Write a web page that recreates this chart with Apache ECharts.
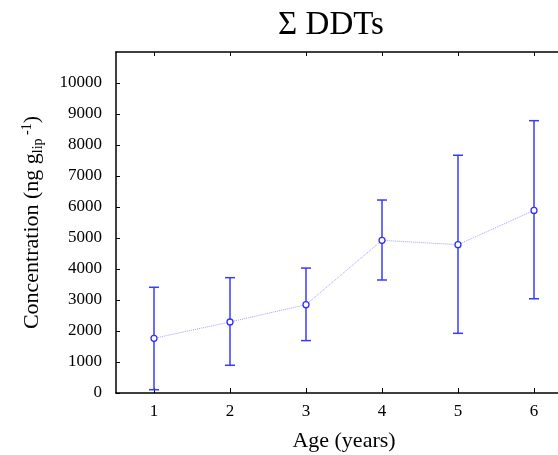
<!DOCTYPE html>
<html lang="en">
<head>
  <meta charset="UTF-8">
  <script src="https://cdn.jsdelivr.net/npm/echarts@6.0.0/dist/echarts.min.js"></script>
  <style>
    body, html { margin: 0; padding: 0; width: 100%; height: 100%; background: #fff; overflow: hidden; }
    #main { width: 558px; height: 455px; }
  </style>
</head>
<body>
  <div id="main"></div>
  <script type="text/javascript">
    var ages = [1, 2, 3, 4, 5, 6];
    var means = [1765, 2290, 2850, 4925, 4785, 5890];
    var upper = [3410, 3720, 4030, 6225, 7670, 8785];
    var lower = [106, 894, 1690, 3645, 1925, 3040];
    var yTicks = [0, 1000, 2000, 3000, 4000, 5000, 6000, 7000, 8000, 9000, 10000];

    var serif = '"Liberation Serif", "DejaVu Serif", serif';
    var myChart = echarts.init(document.getElementById('main'));

    var lineData = ages.map(function (a, i) { return [a, means[i]]; });
    var barData = ages.map(function (a, i) { return [a, lower[i], upper[i]]; });

    var option = {
      backgroundColor: '#fff',
      animation: false,
      title: {
        text: 'Σ DDTs',
        left: 326,
        textAlign: 'center',
        top: 4,
        textStyle: { fontFamily: serif, fontSize: 33, fontWeight: 'normal', color: '#000' }
      },
      grid: { left: 116, top: 52, width: 456, height: 341, outerBoundsMode: 'none' },
      xAxis: [{
        type: 'value',
        min: 0.5,
        max: 6.5,
        name: 'Age (years)',
        nameLocation: 'middle',
        nameGap: 37,
        nameTextStyle: { fontFamily: serif, fontSize: 22, color: '#000' },
        axisLine: { onZero: false, lineStyle: { color: '#000', width: 1.5 } },
        axisTick: { inside: true, length: 5, lineStyle: { color: '#000' }, customValues: ages },
        axisLabel: {
          fontFamily: serif, fontSize: 17, color: '#000', margin: 10, customValues: ages,
          formatter: function (v) { return String(v); }
        },
        splitLine: { show: false }
      }, {
        type: 'value',
        position: 'top',
        min: 0.5,
        max: 6.5,
        axisLine: { onZero: false, lineStyle: { color: '#000', width: 1.5 } },
        axisTick: { inside: true, length: 4, lineStyle: { color: '#000' }, customValues: ages },
        axisLabel: { show: false },
        splitLine: { show: false }
      }],
      yAxis: [{
        type: 'value',
        min: 0,
        max: 11000,
        interval: 1000,
        name: 'Concentration (ng g{sub|lip}{sup| -1})',
        nameLocation: 'middle',
        nameGap: 71,
        nameTextStyle: {
          fontFamily: serif, fontSize: 22, color: '#000',
          rich: {
            sub: { fontFamily: serif, fontSize: 14, color: '#000', padding: [11, 0, 0, 0] },
            sup: { fontFamily: serif, fontSize: 14, color: '#000', padding: [0, 0, 11, 0] }
          }
        },
        axisLine: { onZero: false, lineStyle: { color: '#000', width: 1.5 } },
        axisTick: { inside: true, length: 4, lineStyle: { color: '#000' }, customValues: yTicks },
        axisLabel: {
          fontFamily: serif, fontSize: 17, color: '#000', margin: 14, customValues: yTicks,
          formatter: function (v) { return String(v); }
        },
        splitLine: { show: false }
      }, {
        type: 'value',
        position: 'right',
        min: 0,
        max: 11000,
        interval: 1000,
        axisLine: { onZero: false, lineStyle: { color: '#000', width: 1.5 } },
        axisTick: { show: false },
        axisLabel: { show: false },
        splitLine: { show: false }
      }],
      series: [{
        type: 'custom',
        data: barData,
        z: 3,
        renderItem: function (params, api) {
          var x = api.value(0);
          var lo = api.coord([x, api.value(1)]);
          var hi = api.coord([x, api.value(2)]);
          var w = 5;
          var st = { stroke: '#3a3aff', lineWidth: 1.5 };
          return {
            type: 'group',
            children: [
              { type: 'line', shape: { x1: lo[0], y1: lo[1], x2: hi[0], y2: hi[1] }, style: st },
              { type: 'line', shape: { x1: lo[0] - w, y1: lo[1], x2: lo[0] + w, y2: lo[1] }, style: st },
              { type: 'line', shape: { x1: hi[0] - w, y1: hi[1], x2: hi[0] + w, y2: hi[1] }, style: st }
            ]
          };
        }
      }, {
        type: 'line',
        data: lineData,
        z: 4,
        symbol: 'circle',
        symbolSize: 6,
        lineStyle: { color: '#a0a0ff', width: 1, type: 'dotted' },
        itemStyle: { color: '#fff', borderColor: '#2f2fff', borderWidth: 1.3 }
      }]
    };

    myChart.setOption(option);
  </script>
</body>
</html>
